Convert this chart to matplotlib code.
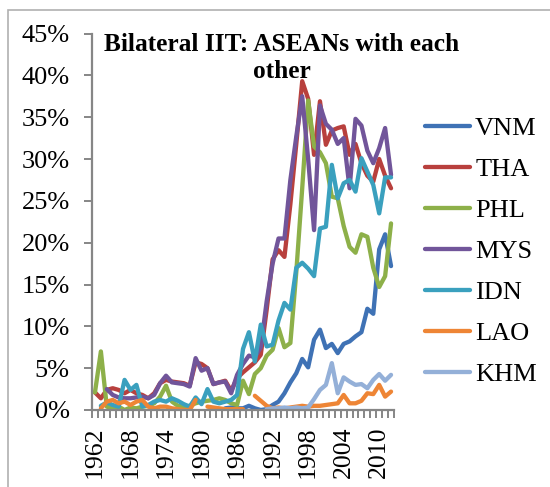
import numpy as np
import matplotlib
matplotlib.use("Agg")
import matplotlib.pyplot as plt
from matplotlib.patches import Rectangle
from matplotlib.ticker import FuncFormatter

plt.rcParams['font.family'] = ['Liberation Serif', 'DejaVu Serif']

nan = np.nan

# categories: one per year, 1962-2012
years = list(range(1962, 2013))
label_years = [1962, 1968, 1974, 1980, 1986, 1992, 1998, 2004, 2010]

# bilateral IIT share, percent
vnm = [nan] * 22 + [0.2, 0.3, 0.2, 0.2, 0.5, 0.2, 0.0, 0.1, 0.6, 1.0,
                    2.0, 3.3, 4.4, 6.1, 5.1, 8.4, 9.6, 7.4, 7.9, 6.8,
                    7.9, 8.2, 8.8, 9.3, 12.1, 11.5, 19.2, 21.0, 17.2]
tha = [2.1, 1.4, 2.4, 2.6, 2.4, 2.0, 2.4, 2.0, 1.8, 1.4,
       2.0, 3.2, 3.6, 3.4, 3.3, 3.2, 2.9, 5.7, 5.5, 5.0,
       3.1, 3.3, 3.5, 2.3, 3.8, 4.5, 5.1, 5.7, 6.6, 12.0,
       18.0, 19.1, 18.3, 24.6, 31.8, 39.3, 37.2, 30.5, 36.9, 31.7,
       33.4, 33.7, 33.9, 30.5, 31.8, 29.5, 28.0, 27.3, 30.0, 28.0, 26.5]
phl = [2.1, 7.0, 0.4, 0.2, 0.4, 0.0, 0.3, 0.2, 0.4, 0.5,
       0.8, 1.6, 2.9, 1.0, 0.5, 0.4, 0.5, 0.8, 1.0, 1.1,
       1.2, 1.4, 1.2, 0.8, 0.6, 3.5, 1.9, 4.3, 5.0, 6.5,
       7.2, 9.8, 7.5, 8.0, 16.5, 26.5, 37.0, 31.5, 30.8, 29.5,
       25.5, 25.3, 22.0, 19.5, 18.8, 21.0, 20.7, 17.0, 14.7, 16.0, 22.3]
mys = [nan, nan, 2.5, 1.8, 1.5, 1.4, 1.4, 1.5, 1.6, 1.4,
       1.8, 3.2, 4.1, 3.3, 3.2, 3.1, 2.8, 6.2, 4.7, 5.0,
       3.1, 3.3, 3.4, 2.0, 4.2, 5.5, 6.5, 6.3, 7.5, 13.0,
       17.5, 20.5, 20.5, 27.5, 32.7, 37.5, 30.0, 21.5, 36.4, 34.2,
       33.5, 31.8, 32.5, 26.5, 34.8, 34.0, 31.0, 29.5, 31.3, 33.7, 28.1]
idn = [nan, 0.5, 0.9, 0.6, 0.4, 3.6, 2.4, 3.0, 0.4, 0.6,
       1.0, 1.2, 1.0, 1.4, 1.1, 0.7, 0.4, 1.5, 0.7, 2.5,
       1.0, 0.8, 1.0, 1.2, 1.8, 7.3, 9.3, 5.8, 10.2, 7.6,
       7.8, 10.7, 12.8, 12.0, 17.0, 17.6, 16.9, 16.0, 21.7, 21.9,
       29.3, 25.3, 27.1, 27.5, 26.1, 30.1, 28.5, 26.9, 23.5, 27.8, 27.8]
lao = [nan, 0.2, 1.0, 1.2, 0.8, 1.0, 0.6, 1.0, 1.2, 0.4,
       0.2, 0.4, 0.4, 0.2, 0.1, 0.0, 0.0, 1.2, nan, 0.4,
       0.3, 0.2, 0.1, 0.1, 0.1, 0.1, nan, 1.7, 1.1, 0.5,
       0.2, 0.3, 0.2, 0.3, 0.4, 0.5, 0.4, 0.5, 0.5, 0.6,
       0.7, 0.8, 1.8, 0.8, 0.8, 1.1, 2.0, 1.9, 3.0, 1.6, 2.2]
khm = [nan] * 29 + [0.1, 0.2, 0.2, 0.3, 0.2, 0.3, 0.2, 0.3, 1.3, 2.4,
                    3.0, 5.6, 2.0, 3.9, 3.4, 3.0, 3.1, 2.6, 3.6, 4.3,
                    3.5, 4.2]

names = ['VNM', 'THA', 'PHL', 'MYS', 'IDN', 'LAO', 'KHM']
series = [vnm, tha, phl, mys, idn, lao, khm]
colors = ['#3F72B5', '#B8403D', '#8DB049', '#71559A', '#3AA0BE', '#EE8535', '#94B0D8']

fig = plt.figure(figsize=(5.5, 4.87), dpi=100)
ax = fig.add_axes([92 / 550, 1 - 410 / 487, 302 / 550, (410 - 33.5) / 487])

x = np.arange(len(years))
for name, vals, col in zip(names, series, colors):
    ax.plot(x, vals, color=col, lw=3.1, label=name,
            solid_capstyle='round', solid_joinstyle='round')

ax.set_xlim(-0.5, len(years) - 0.5)
ax.set_ylim(0, 45)
ax.set_yticks(np.arange(0, 46, 5))
ax.yaxis.set_major_formatter(FuncFormatter(lambda v, p: '%d%%' % v))

ax.set_xticks([years.index(y) for y in label_years])
ax.set_xticklabels([str(y) for y in label_years], rotation=90, va='top')
ax.set_xticks(np.arange(-0.5, len(years)), minor=True)

for s in ['top', 'right']:
    ax.spines[s].set_visible(False)
for s in ['left', 'bottom']:
    ax.spines[s].set_color('#868686')
    ax.spines[s].set_linewidth(1.6)

ax.tick_params(axis='y', direction='out', length=6, width=1.4, color='#868686',
               labelsize=19, pad=10)
ax.tick_params(axis='x', which='major', length=0, labelsize=18.5, pad=12)
ax.tick_params(axis='x', which='minor', direction='out', length=6, width=1.4,
               color='#868686')

fig.text(0.512, 1 - 58 / 487, 'Bilateral IIT: ASEANs with each\nother',
         ha='center', va='center', fontsize=18.3, fontweight='bold',
         linespacing=1.25)

fig.legend(loc='upper left', bbox_to_anchor=(425 / 550, 1 - 117 / 487),
           frameon=False, fontsize=19, handlelength=1.7, handletextpad=0.2,
           labelspacing=0.66, borderpad=0, borderaxespad=0)

fig.patches.append(Rectangle((8 / 550, -0.01), 1, 1 - 10 / 487 + 0.01,
                             transform=fig.transFigure, fill=False,
                             edgecolor='#b0b0b0', lw=1.2))

fig.savefig('out.png', dpi=100)
